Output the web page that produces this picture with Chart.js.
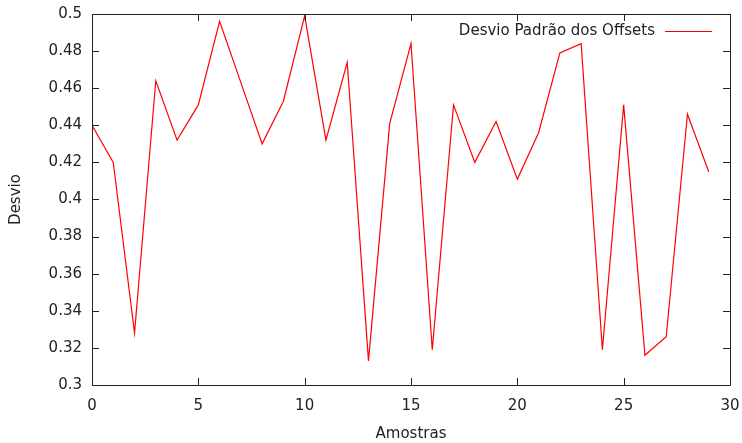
<!DOCTYPE html>
<html>
<head>
<meta charset="utf-8">
<script src="https://cdn.jsdelivr.net/npm/chart.js@4/dist/chart.umd.min.js"></script>
<style>
  html, body { margin: 0; padding: 0; background: #fff; }
  #wrap { width: 742px; height: 443px; }
</style>
</head>
<body>
<div id="wrap"><canvas id="desvioChart" width="742" height="443"></canvas></div>
<script>
const amostras = [0, 1, 2, 3, 4, 5, 6, 7, 8, 9, 10, 11, 12, 13, 14, 15, 16, 17, 18, 19, 20, 21, 22, 23, 24, 25, 26, 27, 28, 29];
const desvios = [0.440, 0.420, 0.328, 0.464, 0.432, 0.451, 0.496, 0.463, 0.430, 0.453, 0.499, 0.432, 0.474, 0.313, 0.441,
                 0.484, 0.319, 0.451, 0.420, 0.442, 0.411, 0.436, 0.479, 0.484, 0.319, 0.451, 0.316, 0.326, 0.446, 0.415];
const serieLabel = 'Desvio Padrão dos Offsets';
const xTitle = 'Amostras';
const yTitle = 'Desvio';

const FONT = 'DejaVu Sans';
const FSIZE = 15;
const TXT = '#222';

// gnuplot-like frame: box around the plot, inward ticks mirrored on all four sides, legend top right
const gnuFrame = {
    id: 'gnuFrame',
    afterDraw(chart) {
        const { ctx, chartArea: a, scales } = chart;
        const len = 7;
        ctx.save();
        ctx.strokeStyle = '#222';
        ctx.lineWidth = 1;
        ctx.beginPath();
        ctx.rect(Math.round(a.left) + 0.5, Math.round(a.top) + 0.5,
                 Math.round(a.right - a.left), Math.round(a.bottom - a.top));
        scales.x.ticks.forEach(t => {
            const px = Math.round(scales.x.getPixelForValue(t.value)) + 0.5;
            ctx.moveTo(px, a.bottom); ctx.lineTo(px, a.bottom - len);
            ctx.moveTo(px, a.top); ctx.lineTo(px, a.top + len);
        });
        scales.y.ticks.forEach(t => {
            const py = Math.round(scales.y.getPixelForValue(t.value)) + 0.5;
            ctx.moveTo(a.left, py); ctx.lineTo(a.left + len, py);
            ctx.moveTo(a.right, py); ctx.lineTo(a.right - len, py);
        });
        ctx.stroke();

        // legend
        const ly = a.top + 17;
        const lineEnd = a.right - 18;
        const lineStart = lineEnd - 47;
        ctx.font = FSIZE + 'px "' + FONT + '"';
        ctx.fillStyle = TXT;
        ctx.textAlign = 'right';
        ctx.textBaseline = 'middle';
        ctx.fillText(chart.data.datasets[0].label, lineStart - 10, ly);
        ctx.strokeStyle = chart.data.datasets[0].borderColor;
        ctx.lineWidth = 1.2;
        ctx.beginPath();
        ctx.moveTo(lineStart, ly + 0.5);
        ctx.lineTo(lineEnd, ly + 0.5);
        ctx.stroke();
        ctx.restore();
    }
};

new Chart(document.getElementById('desvioChart').getContext('2d'), {
    type: 'line',
    data: {
        datasets: [{
            label: serieLabel,
            data: amostras.map((x, i) => ({ x: x, y: desvios[i] })),
            borderColor: '#ff0000',
            borderWidth: 1.2,
            pointRadius: 0,
            tension: 0,
            fill: false
        }]
    },
    options: {
        responsive: false,
        animation: false,
        layout: { padding: { top: 14, right: 12, left: 0, bottom: 0 } },
        plugins: {
            legend: { display: false },
            tooltip: { enabled: false }
        },
        scales: {
            x: {
                type: 'linear',
                min: 0,
                max: 30,
                grid: { display: false, drawTicks: false },
                border: { display: false },
                ticks: { stepSize: 5, padding: 12, color: TXT, font: { family: FONT, size: FSIZE }, maxRotation: 0 },
                title: { display: true, text: xTitle, color: TXT, font: { family: FONT, size: FSIZE }, padding: { top: 11, bottom: 0 } },
                afterFit: s => { s.height = 58; s.paddingLeft = 0; s.paddingRight = 0; }
            },
            y: {
                min: 0.3,
                max: 0.5,
                grid: { display: false, drawTicks: false },
                border: { display: false },
                ticks: {
                    stepSize: 0.02, padding: 10, color: TXT, font: { family: FONT, size: FSIZE },
                    callback: v => String(Math.round(v * 100) / 100)
                },
                title: { display: true, text: yTitle, color: TXT, font: { family: FONT, size: FSIZE }, padding: { top: 7, bottom: 0 } },
                afterFit: s => { s.width = 92; s.paddingTop = 0; s.paddingBottom = 0; }
            }
        }
    },
    plugins: [gnuFrame]
});
</script>
</body>
</html>
